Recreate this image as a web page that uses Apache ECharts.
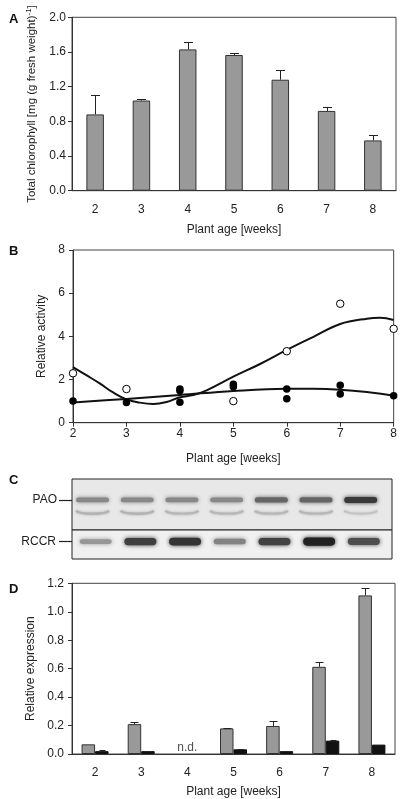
<!DOCTYPE html>
<html>
<head>
<meta charset="utf-8">
<script src="https://cdn.jsdelivr.net/npm/echarts@6/dist/echarts.min.js"></script>
<style>
html,body{margin:0;padding:0;background:#fff;}
#chart{width:400px;height:799px;}
</style>
</head>
<body>
<div id="chart"></div>
<script>
// ---------- data ----------
const weeks = ['2', '3', '4', '5', '6', '7', '8'];

// Panel A: total chlorophyll
const chlorophyll = [0.88, 1.04, 1.63, 1.565, 1.28, 0.92, 0.58];
const chlorophyllErr = [0.22, 0.02, 0.09, 0.025, 0.11, 0.04, 0.06];

// Panel B: relative activity
const activityOpen = [[2, 2.29], [3, 1.56], [5, 1.0], [6, 3.31], [7, 5.51], [8, 4.35]];
const activityFilled = [[2, 1.0], [3, 0.93], [4, 1.56], [4, 1.48], [4, 0.95], [5, 1.78], [5, 1.67],
  [6, 1.56], [6, 1.11], [7, 1.73], [7, 1.33], [8, 1.25]];
const fitOpen = [[2, 2.57], [2.25, 2.2], [2.5, 1.82], [2.75, 1.4], [3, 1.08], [3.25, 0.93], [3.5, 0.87],
  [3.75, 0.96], [4, 1.18], [4.25, 1.28], [4.5, 1.5], [5, 2.13], [5.5, 2.72], [6, 3.37], [6.5, 3.98],
  [7, 4.57], [7.5, 4.82], [7.75, 4.86], [8, 4.76]];
const fitFilled = [[2, 0.94], [3, 1.1], [4, 1.28], [5, 1.47], [6, 1.57], [6.5, 1.57], [7, 1.53], [7.5, 1.42], [8, 1.25]];

// Panel C: immunoblot band intensities (0..1)
const blotLanes = [1, 2, 3, 4, 5, 6, 7];
const paoUpper = [0.42, 0.42, 0.42, 0.42, 0.6, 0.6, 0.82];
const paoLower = [0.2, 0.2, 0.18, 0.18, 0.18, 0.18, 0.12];
const rccr = [0.35, 0.8, 0.85, 0.45, 0.78, 0.95, 0.72];

// Panel D: relative expression
const exprGray = [0.068, 0.21, null, 0.18, 0.197, 0.613, 1.115];
const exprGrayErr = [0, 0.015, null, 0.006, 0.033, 0.035, 0.055];
const exprBlack = [0.02, 0.02, null, 0.033, 0.02, 0.094, 0.066];
const exprBlackErr = [0.005, 0, null, 0.004, 0, 0.003, 0];
const notDetermined = ['4'];

// ---------- helpers ----------
const TXT = '#222';
const AX = '#333';
const FONT = 'Liberation Sans, Arial, sans-serif';

function errRender(offset, capW) {
  return function (params, api) {
    const v = api.value(1), e = api.value(2);
    if (v == null || isNaN(v) || !e) return null;
    const base = api.coord([api.value(0), v]);
    const top = api.coord([api.value(0), v + e]);
    const x = Math.round(base[0] + offset) + 0.5;
    const ty = Math.round(top[1]) + 0.5;
    return {
      type: 'group', children: [
        { type: 'line', shape: { x1: x, y1: base[1], x2: x, y2: ty }, style: { stroke: '#222', lineWidth: 1 } },
        { type: 'line', shape: { x1: x - capW / 2, y1: ty, x2: x + capW / 2, y2: ty }, style: { stroke: '#222', lineWidth: 1 } }
      ]
    };
  };
}
function grayOf(t) { const g = Math.round(218 - 195 * t); return 'rgb(' + g + ',' + g + ',' + g + ')'; }

function bandRender(width, thick0, thickK, curved) {
  return function (params, api) {
    const c = api.coord([api.value(0), api.value(1)]);
    const t = api.value(2);
    const h = thick0 + thickK * t;
    const col = grayOf(t);
    if (curved) {
      return {
        type: 'bezierCurve',
        shape: { x1: c[0] - width / 2, y1: c[1] - 3, cpx1: c[0] - width / 2 + 3, cpy1: c[1] + 1,
                 cpx2: c[0] + width / 2 - 3, cpy2: c[1] + 1, x2: c[0] + width / 2, y2: c[1] - 3 },
        style: { stroke: col, lineWidth: h, fill: null, shadowBlur: 3, shadowColor: col }
      };
    }
    return {
      type: 'rect',
      shape: { x: c[0] - width / 2, y: c[1] - h / 2, width: width, height: h, r: h / 2 },
      style: { fill: col, shadowBlur: 4, shadowColor: col }
    };
  };
}

const axisName = { fontSize: 12, color: TXT, fontFamily: FONT };
const tickLbl = { fontSize: 12, color: TXT, fontFamily: FONT };

const chart = echarts.init(document.getElementById('chart'), null, { renderer: 'canvas' });

const option = {
  animation: false,
  textStyle: { fontFamily: FONT },
  title: [
    { text: 'A', left: 4, top: 8, textStyle: { fontSize: 13, fontWeight: 'bold', color: '#111' } },
    { text: 'B', left: 4, top: 240, textStyle: { fontSize: 13, fontWeight: 'bold', color: '#111' } },
    { text: 'C', left: 4, top: 469, textStyle: { fontSize: 13, fontWeight: 'bold', color: '#111' } },
    { text: 'D', left: 4, top: 578, textStyle: { fontSize: 13, fontWeight: 'bold', color: '#111' } }
  ],
  grid: [
    { left: 72, top: 17.3, width: 324, height: 173.4, show: true, borderColor: '#444', borderWidth: 1, backgroundColor: 'transparent' },
    { left: 73, top: 250, width: 323, height: 172.7, show: true, borderColor: '#444', borderWidth: 1, backgroundColor: 'transparent' },
    { left: 72, top: 479, width: 320, height: 51, show: true, borderColor: '#222', borderWidth: 1, backgroundColor: '#e8e8e8' },
    { left: 72, top: 530, width: 320, height: 29, show: true, borderColor: '#222', borderWidth: 1, backgroundColor: '#f0f0f0' },
    { left: 72, top: 583.3, width: 323, height: 170.7, show: true, borderColor: '#444', borderWidth: 1, backgroundColor: 'transparent' }
  ],
  xAxis: [
    {
      gridIndex: 0, type: 'category', data: weeks,
      axisLine: { lineStyle: { color: AX } },
      axisTick: { length: 4, lineStyle: { color: AX } },
      axisLabel: Object.assign({ margin: 13 }, tickLbl),
      name: 'Plant age [weeks]', nameLocation: 'middle', nameGap: 33, nameTextStyle: axisName
    },
    {
      gridIndex: 1, type: 'value', min: 2, max: 8, interval: 1,
      axisLine: { lineStyle: { color: AX } },
      axisTick: { show: true, length: 4, lineStyle: { color: AX } },
      splitLine: { show: false },
      axisLabel: Object.assign({ margin: 5 }, tickLbl),
      name: 'Plant age [weeks]', nameLocation: 'middle', nameGap: 30, nameTextStyle: axisName
    },
    { gridIndex: 2, type: 'value', min: 0.54, max: 7.7, show: false },
    { gridIndex: 3, type: 'value', min: 0.54, max: 7.7, show: false },
    {
      gridIndex: 4, type: 'category', data: weeks,
      axisLine: { lineStyle: { color: AX } },
      axisTick: { length: 4, lineStyle: { color: AX } },
      axisLabel: Object.assign({ margin: 13 }, tickLbl),
      name: 'Plant age [weeks]', nameLocation: 'middle', nameGap: 32, nameTextStyle: axisName
    }
  ],
  yAxis: [
    {
      gridIndex: 0, type: 'value', min: 0, max: 2, interval: 0.4,
      axisLine: { show: true, lineStyle: { color: AX } },
      axisTick: { show: true, length: 4, lineStyle: { color: AX } },
      splitLine: { show: false },
      axisLabel: Object.assign({ margin: 6, formatter: v => v.toFixed(1) }, tickLbl),
      name: 'Total chlorophyll [mg (g fresh weight){sup|-1}]', nameLocation: 'middle', nameGap: 29,
      nameTextStyle: { fontSize: 11.5, color: TXT, fontFamily: FONT, lineHeight: 14,
        rich: { sup: { fontSize: 8, color: TXT, fontFamily: FONT, verticalAlign: 'top', lineHeight: 14 } } }
    },
    {
      gridIndex: 1, type: 'value', min: 0, max: 8, interval: 2,
      axisLine: { show: true, lineStyle: { color: AX } },
      axisTick: { show: true, length: 4, lineStyle: { color: AX } },
      splitLine: { show: false },
      axisLabel: Object.assign({ margin: 8 }, tickLbl),
      name: 'Relative activity', nameLocation: 'middle', nameGap: 18, nameTextStyle: axisName
    },
    {
      gridIndex: 2, type: 'value', min: 0, max: 1,
      axisLine: { show: false }, splitLine: { show: false },
      axisTick: { show: true, customValues: [0.59], length: 13, lineStyle: { color: '#222', width: 1.2 } },
      axisLabel: Object.assign({ customValues: [0.59], margin: 15, formatter: () => 'PAO' }, tickLbl)
    },
    {
      gridIndex: 3, type: 'value', min: 0, max: 1,
      axisLine: { show: false }, splitLine: { show: false },
      axisTick: { show: true, customValues: [0.6], length: 13, lineStyle: { color: '#222', width: 1.2 } },
      axisLabel: Object.assign({ customValues: [0.6], margin: 16, formatter: () => 'RCCR' }, tickLbl)
    },
    {
      gridIndex: 4, type: 'value', min: 0, max: 1.2, interval: 0.2,
      axisLine: { show: true, lineStyle: { color: AX } },
      axisTick: { show: true, length: 4, lineStyle: { color: AX } },
      splitLine: { show: false },
      axisLabel: Object.assign({ margin: 8, formatter: v => v.toFixed(1) }, tickLbl),
      name: 'Relative expression', nameLocation: 'middle', nameGap: 29, nameTextStyle: axisName
    }
  ],
  series: [
    // ---- A ----
    {
      type: 'bar', xAxisIndex: 0, yAxisIndex: 0, data: chlorophyll, barWidth: 17.5,
      itemStyle: { color: '#999999', borderColor: '#333', borderWidth: 1 }
    },
    {
      type: 'custom', xAxisIndex: 0, yAxisIndex: 0, z: 5,
      data: weeks.map((w, i) => [w, chlorophyll[i], chlorophyllErr[i]]),
      renderItem: errRender(0, 9)
    },
    // ---- B ----
    {
      type: 'line', xAxisIndex: 1, yAxisIndex: 1, data: fitOpen, smooth: 0.4, showSymbol: false,
      lineStyle: { color: '#111', width: 2 }, z: 2
    },
    {
      type: 'line', xAxisIndex: 1, yAxisIndex: 1, data: fitFilled, smooth: 0.4, showSymbol: false,
      lineStyle: { color: '#111', width: 2 }, z: 2
    },
    {
      type: 'scatter', xAxisIndex: 1, yAxisIndex: 1, data: activityFilled, symbolSize: 7.5, z: 4,
      itemStyle: { color: '#000', opacity: 1 }
    },
    {
      type: 'scatter', xAxisIndex: 1, yAxisIndex: 1, data: activityOpen, symbolSize: 7.5, z: 4,
      itemStyle: { color: '#fff', borderColor: '#000', borderWidth: 1, opacity: 1 }
    },
    // ---- C ----
    {
      type: 'custom', xAxisIndex: 2, yAxisIndex: 2,
      data: blotLanes.map((l, i) => [l, 0.59, paoUpper[i]]),
      renderItem: bandRender(33, 3.5, 3, false)
    },
    {
      type: 'custom', xAxisIndex: 2, yAxisIndex: 2,
      data: blotLanes.map((l, i) => [l, 0.32, paoLower[i]]),
      renderItem: bandRender(33, 2, 2, true)
    },
    {
      type: 'custom', xAxisIndex: 3, yAxisIndex: 3,
      data: blotLanes.map((l, i) => [l + 0.07, 0.6, rccr[i]]),
      renderItem: bandRender(32, 3, 5.5, false)
    },
    // ---- D ----
    {
      type: 'bar', xAxisIndex: 4, yAxisIndex: 4, data: exprGray, barWidth: 13.5, barGap: '0%',
      itemStyle: { color: '#999999', borderColor: '#333', borderWidth: 1 }
    },
    {
      type: 'bar', xAxisIndex: 4, yAxisIndex: 4, data: exprBlack, barWidth: 13.5, barGap: '0%',
      itemStyle: { color: '#111111', borderColor: '#111', borderWidth: 1 }
    },
    {
      type: 'custom', xAxisIndex: 4, yAxisIndex: 4, z: 5,
      data: weeks.map((w, i) => [w, exprGray[i], exprGrayErr[i]]),
      renderItem: errRender(-6.75, 8)
    },
    {
      type: 'custom', xAxisIndex: 4, yAxisIndex: 4, z: 5,
      data: weeks.map((w, i) => [w, exprBlack[i], exprBlackErr[i]]),
      renderItem: errRender(6.75, 6)
    },
    {
      type: 'scatter', xAxisIndex: 4, yAxisIndex: 4, symbolSize: 0,
      data: notDetermined.map(w => [w, 0]),
      label: { show: true, position: 'top', distance: 0, formatter: 'n.d.', fontSize: 12, color: TXT, fontFamily: FONT }
    }
  ]
};
chart.setOption(option);
</script>
</body>
</html>
